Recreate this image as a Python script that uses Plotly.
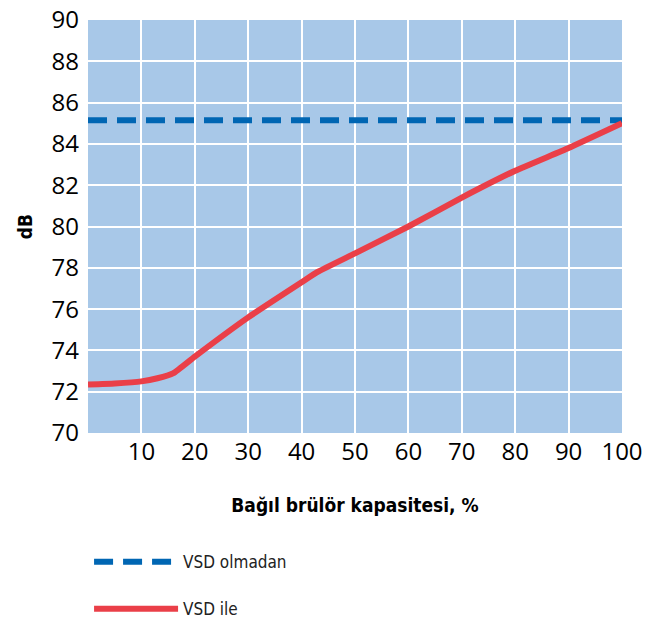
import plotly.graph_objects as go

x_vsd = [0, 5, 10, 13, 16, 20, 30, 40, 43, 50, 60, 70, 80, 90, 100]
y_vsd = [72.35, 72.4, 72.5, 72.65, 72.9, 73.7, 75.6, 77.3, 77.8, 78.7, 80.0, 81.4, 82.7, 83.8, 85.0]
x_novsd = [0, 100]
y_novsd = [85.15, 85.15]
x_ticks = [10, 20, 30, 40, 50, 60, 70, 80, 90, 100]
y_ticks = [70, 72, 74, 76, 78, 80, 82, 84, 86, 88, 90]

cond = "Liberation Sans Narrow, DejaVu Sans Condensed, sans-serif"

fig = go.Figure()
fig.add_trace(go.Scatter(x=x_novsd, y=y_novsd, mode="lines", name="VSD olmadan",
                         legendgroup="a",
                         line=dict(color="#0066b3", width=6, dash="19px,10px")))
fig.add_trace(go.Scatter(x=x_vsd, y=y_vsd, mode="lines", name="VSD ile",
                         legendgroup="b",
                         line=dict(color="#ea3f48", width=6, shape="spline", smoothing=0.4)))

fig.update_layout(
    width=660, height=618,
    margin=dict(l=80, r=46, t=12, b=193, autoexpand=False),
    plot_bgcolor="#a8c8e8",
    paper_bgcolor="white",
    font=dict(family="Open Sans, sans-serif", color="black"),
    showlegend=True,
    legend=dict(x=0.002, xanchor="left", y=-0.269, yanchor="top", orientation="v",
                itemwidth=84, tracegroupgap=22,
                font=dict(family=cond, size=17, color="#222")),
    xaxis=dict(range=[0, 100], tickvals=x_ticks, ticks="", showline=False,
               gridcolor="white", gridwidth=2, zeroline=False,
               tickfont=dict(size=24), ticklabelstandoff=2, ticklabeloverflow="allow",
               title=dict(text="<b>Bağıl brülör kapasitesi, %</b>", standoff=32,
                          font=dict(family=cond, size=19))),
    yaxis=dict(range=[70, 90], tickvals=y_ticks, ticks="", showline=False,
               gridcolor="white", gridwidth=2, zeroline=False,
               tickfont=dict(size=24), ticklabelstandoff=8, ticklabeloverflow="allow",
               title=dict(text="<b>dB</b>", standoff=13,
                          font=dict(family=cond, size=19))),
)

fig.write_html("out.html")
